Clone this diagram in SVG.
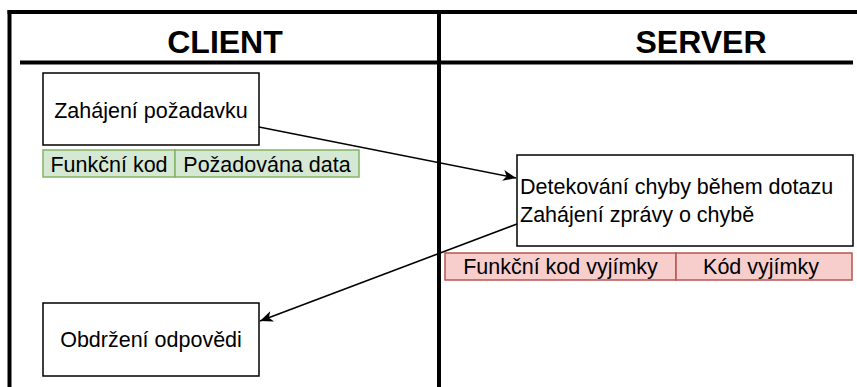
<svg xmlns="http://www.w3.org/2000/svg" width="857" height="387" viewBox="0 0 857 387">
  <style>
    .frame { stroke: #000; stroke-width: 4; fill: none; }
    .box { fill: #fff; stroke: #000; stroke-width: 1.5; }
    .ok { fill: #d5e8d4; stroke: #82b366; stroke-width: 1.5; }
    .err { fill: #f8cecc; stroke: #b85450; stroke-width: 1.5; }
    .head { font-family: "Liberation Sans", Arial, sans-serif; font-size: 32px; font-weight: bold; fill: #000; text-anchor: middle; }
    .t { font-family: "Liberation Sans", Arial, sans-serif; font-size: 21.5px; fill: #000; }
    .c { text-anchor: middle; }
    .link { stroke: #000; stroke-width: 1.6; fill: none; }
  </style>
  <defs>
    <marker id="arrow" markerUnits="userSpaceOnUse" viewBox="-14 -7 15 14" markerWidth="15" markerHeight="14" refX="0" refY="0" orient="auto">
      <path d="M0,0 L-13,-5.5 L-9.5,0 L-13,5.5 Z" fill="#000"/>
    </marker>
  </defs>

  <rect width="857" height="387" fill="#fff"/>

  <!-- swimlane frame -->
  <g id="lanes">
    <line class="frame" x1="7.5" y1="12" x2="857" y2="12"/>
    <line class="frame" x1="9.5" y1="10" x2="9.5" y2="387" stroke-width="5"/>
    <line class="frame" x1="439" y1="10" x2="439" y2="387" stroke-width="5"/>
    <line class="frame" x1="20" y1="62.5" x2="853" y2="62.5"/>
    <text class="head" x="225" y="53">CLIENT</text>
    <text class="head" x="701" y="53">SERVER</text>
  </g>

  <!-- client: request -->
  <g id="request">
    <rect class="box" x="43" y="73" width="216" height="72"/>
    <text class="t c" x="151" y="118">Zahájení požadavku</text>
  </g>
  <g id="request-pdu">
    <rect class="ok" x="43" y="150" width="132" height="27"/>
    <rect class="ok" x="175" y="150" width="184" height="27"/>
    <text class="t c" x="109" y="172">Funkční kod</text>
    <text class="t c" x="267" y="172">Požadována data</text>
  </g>

  <!-- server: error detection -->
  <g id="server">
    <rect class="box" x="517" y="155" width="336" height="91"/>
    <text class="t" x="520" y="194">Detekování chyby během dotazu</text>
    <text class="t" x="520" y="222">Zahájení zprávy o chybě</text>
  </g>
  <g id="exception-pdu">
    <rect class="err" x="445" y="253" width="231" height="27"/>
    <rect class="err" x="676" y="253" width="176" height="27"/>
    <text class="t c" x="560.5" y="274">Funkční kod vyjímky</text>
    <text class="t c" x="761" y="274">Kód vyjímky</text>
  </g>

  <!-- client: response -->
  <g id="response">
    <rect class="box" x="43" y="303" width="216" height="73"/>
    <text class="t c" x="151" y="347">Obdržení odpovědi</text>
  </g>

  <!-- connectors -->
  <g id="connectors">
    <path class="link" d="M259,127 L516,178" marker-end="url(#arrow)"/>
    <path class="link" d="M517,224 L260,321" marker-end="url(#arrow)"/>
  </g>
</svg>
